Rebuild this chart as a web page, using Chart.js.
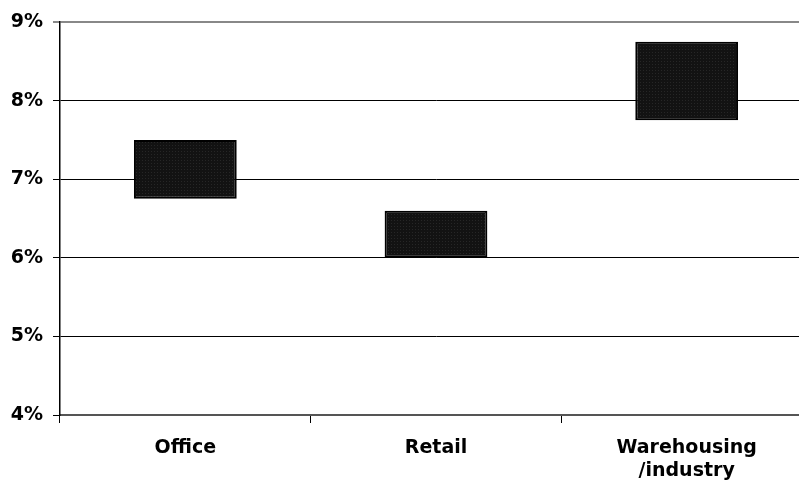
<!DOCTYPE html>
<html>
<head>
<meta charset="utf-8">
<script src="https://cdn.jsdelivr.net/npm/chart.js@4/dist/chart.umd.min.js"></script>
<style>
  html, body { margin: 0; padding: 0; background: #fff; overflow: hidden; }
  #wrap { width: 812px; height: 487px; }
</style>
</head>
<body>
<div id="wrap"><canvas id="rangeChart" width="812" height="487"></canvas></div>
<script>
// yield ranges per property type (percent)
const categories = [['Office'], ['Retail'], ['Warehousing', '/industry']];
const lowValues = [6.75, 6.0, 7.75];
const highValues = [7.5, 6.6, 8.75];
const yTicks = [4, 5, 6, 7, 8, 9];

// dark dotted fill for the bars
function makePattern() {
    const c = document.createElement('canvas');
    c.width = 3;
    c.height = 3;
    const g = c.getContext('2d');
    g.fillStyle = '#121212';
    g.fillRect(0, 0, 3, 3);
    g.fillStyle = '#262626';
    g.fillRect(1, 1, 1, 1);
    return g.createPattern(c, 'repeat');
}

const ranges = lowValues.map((lo, i) => [lo, highValues[i]]);
const font = { family: '"DejaVu Sans", Verdana, sans-serif', size: 19, weight: 'bold', lineHeight: 1.2 };

const ctx = document.getElementById('rangeChart').getContext('2d');
new Chart(ctx, {
    type: 'bar',
    data: {
        labels: categories,
        datasets: [{
            data: ranges,
            backgroundColor: makePattern(),
            borderColor: '#000',
            borderWidth: 2,
            borderSkipped: false,
            categoryPercentage: 1,
            barPercentage: 0.41
        }]
    },
    options: {
        responsive: false,
        animation: false,
        layout: { padding: { top: 22, right: 0, left: 0, bottom: 0 } },
        plugins: {
            legend: { display: false },
            tooltip: { enabled: false }
        },
        scales: {
            x: {
                grid: {
                    display: true,
                    drawOnChartArea: false,
                    drawTicks: true,
                    tickLength: 8,
                    color: '#000',
                    lineWidth: 1
                },
                border: { display: true, color: '#555', width: 2 },
                ticks: { color: '#000', font: font, padding: 14, maxRotation: 0 },
                afterFit: scale => { scale.height = 72; }
            },
            y: {
                min: yTicks[0],
                max: yTicks[yTicks.length - 1],
                afterBuildTicks: scale => {
                    scale.ticks = yTicks.map(v => ({ value: v }));
                },
                grid: {
                    color: c => (c.tick && c.tick.value === 9 ? '#888' : '#000'),
                    lineWidth: c => (c.tick && c.tick.value === 9 ? 2 : 1),
                    tickLength: 7
                },
                border: { display: true, color: '#000', width: 1.5 },
                ticks: {
                    color: '#000',
                    font: font,
                    padding: 10,
                    callback: v => v + '%'
                },
                afterFit: scale => { scale.width = 60; }
            }
        }
    }
});
</script>
</body>
</html>
